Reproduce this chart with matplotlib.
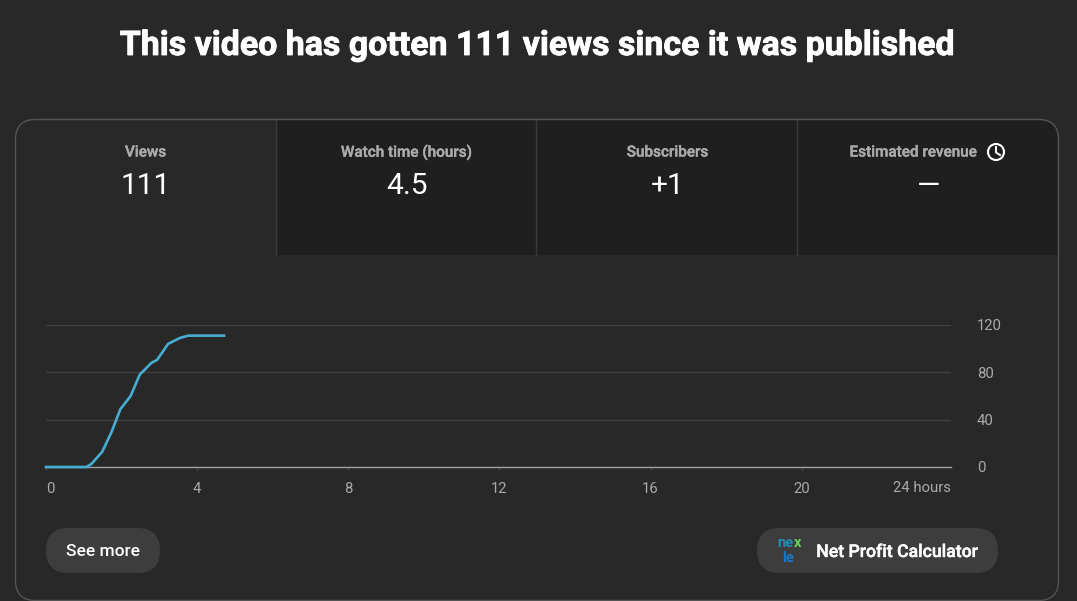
import matplotlib
matplotlib.use("Agg")
import matplotlib.pyplot as plt
import matplotlib.patheffects as pe
from matplotlib.patches import FancyBboxPatch, Circle, Rectangle

W, H = 1077, 601
BG = '#282828'
DARK = '#1f1f1f'
GREY = '#aaaaaa'

plt.rcParams['font.family'] = ['Roboto', 'DejaVu Sans']

# data
hours = [0, 1.07, 1.21, 1.49, 1.74, 1.97, 2.24, 2.48, 2.79, 2.94, 3.23, 3.54, 3.76, 4.71]
views = [0, 0, 2.8, 13, 30, 49, 60, 78, 88, 90.5, 104, 109, 111, 111]
x_ticks = [0, 4, 8, 12, 16, 20]
y_ticks = [0, 40, 80, 120]
tab_names = ['Views', 'Watch time (hours)', 'Subscribers', 'Estimated revenue']
tab_values = ['111', '4.5', '+1', '—']
tab_centers = [145.5, 406.5, 667.5, 928.5]

fig = plt.figure(figsize=(W / 100, H / 100), dpi=100, facecolor=BG)

# whole figure axes in pixels, for the card and buttons
bg = fig.add_axes([0, 0, 1, 1])
bg.set_xlim(0, W)
bg.set_ylim(H, 0)
bg.axis('off')

card = FancyBboxPatch((15.5, 119.5), 1043, 481, boxstyle='round,pad=0,rounding_size=20',
                      fc='none', ec='#555555', lw=1, zorder=3)
bg.add_patch(card)
# darker tabs, cut by the card corner
tabs = Rectangle((277, 120), 781, 135, fc=DARK, ec='none', zorder=1)
bg.add_patch(tabs)
tabs.set_clip_path(FancyBboxPatch((15.5, 119.5), 1043, 481, boxstyle='round,pad=0,rounding_size=20',
                                  transform=bg.transData))
for xd in [275.9, 535.9, 796.9]:
    bg.plot([xd, xd], [120, 255], color='#3c3c3c', lw=1, zorder=2)

title = bg.text(536.5, 46, 'This video has gotten 111 views since it was published', color='white',
                fontsize=24.4, fontweight='bold', ha='center', va='center')
title.set_path_effects([pe.withStroke(linewidth=0.6, foreground='white')])

for name, value, cx in zip(tab_names, tab_values, tab_centers):
    lab = bg.text(cx if name != 'Estimated revenue' else 913, 152.5, name, color=GREY, fontsize=11,
                  fontweight='medium', ha='center', va='center', zorder=4)
    lab.set_path_effects([pe.withStroke(linewidth=0.3, foreground=GREY)])
    bg.text(cx, 186, value, color='white', fontsize=21.5, ha='center', va='center', zorder=4)

# clock icon
bg.add_patch(Circle((996, 152), 8, fc='none', ec='white', lw=1.5, zorder=4))
bg.plot([996, 996, 1000], [147, 152.5, 155], color='white', lw=1.4, zorder=4)

# buttons
for x0, x1 in [(46, 160), (757, 998)]:
    bg.add_patch(FancyBboxPatch((x0, 528), x1 - x0, 45, boxstyle='round,pad=0,rounding_size=22.5',
                                fc='#3d3d3d', ec='none', zorder=2))
bg.text(103, 551, 'See more', color='white', fontsize=12.5, fontweight='medium',
        ha='center', va='center', zorder=4)
net = bg.text(897, 552, 'Net Profit Calculator', color='white', fontsize=12.7, fontweight='medium',
              ha='center', va='center', zorder=4)
net.set_path_effects([pe.withStroke(linewidth=0.3, foreground='white')])
bg.text(777, 543, 'ne', color='#1f8fb5', fontsize=10.5, fontweight='bold', ha='left', va='center', zorder=4)
bg.text(793.5, 543, 'x', color='#5fd35a', fontsize=10.5, fontweight='bold', ha='left', va='center', zorder=4)
bg.text(782, 558, 'le', color='#1878c8', fontsize=10.5, fontweight='bold', ha='left', va='center', zorder=4)

# the line chart
ax = fig.add_axes([46 / W, 1 - 467 / H, (951 - 46) / W, (467 - 325) / H])
ax.patch.set_alpha(0)
ax.set_xlim(0, 23.95)
ax.set_ylim(0, 120)
for s in ['top', 'left', 'right']:
    ax.spines[s].set_visible(False)
ax.spines['bottom'].set_color('#a0a0a0')
ax.spines['bottom'].set_linewidth(1)
ax.grid(axis='y', color='#414141', lw=1)
ax.set_axisbelow(True)
ax.plot(hours, views, color='#45aed2', lw=1.9, solid_joinstyle='round', clip_on=False, zorder=5)

ax.set_xticks(x_ticks)
ax.set_xticklabels([str(t) for t in x_ticks])
ax.tick_params(axis='x', color='#444444', length=2, width=1, labelsize=10.7, pad=9, labelcolor=GREY)
ax.get_xticklabels()[0].set_ha('left')
ax.text(951, 488, '24 hours', color=GREY, fontsize=10.7, ha='right', va='center',
        transform=bg.transData)

ax.yaxis.tick_right()
ax.set_yticks(y_ticks)
ax.set_yticklabels([str(t) for t in y_ticks])
ax.tick_params(axis='y', length=0, labelsize=10.7, pad=18.5, labelcolor=GREY)

fig.savefig('out.png', dpi=100, facecolor=BG)
